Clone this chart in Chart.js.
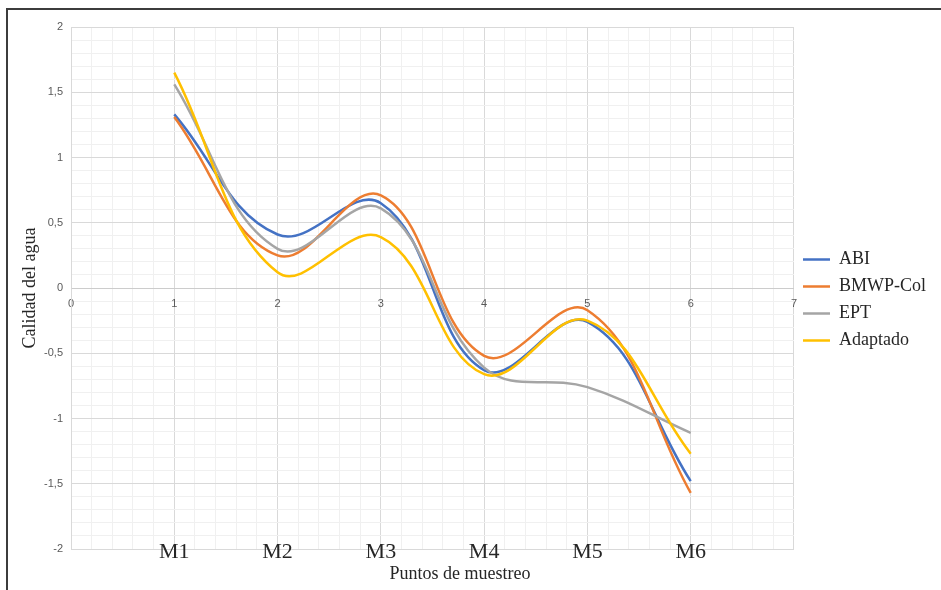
<!DOCTYPE html>
<html>
<head>
<meta charset="utf-8">
<script src="https://cdn.jsdelivr.net/npm/chart.js@4.4.1/dist/chart.umd.min.js"></script>
<style>
  html, body { margin: 0; padding: 0; background: #fff; }
  #wrap { position: relative; width: 941px; height: 590px; }
  #chart-calidad { position: absolute; left: 0; top: 0; }
  #frame {
    position: absolute; left: 6px; top: 8px; right: 0; bottom: 0;
    border-top: 2px solid #3c3c3c; border-left: 2px solid #3c3c3c;
    pointer-events: none;
  }
</style>
</head>
<body>
<div id="wrap">
  <canvas id="chart-calidad" width="941" height="590"></canvas>
  <div id="frame"></div>
</div>
<script>
// puntos de muestreo (posicion en x) y su etiqueta
const puntos = [1, 2, 3, 4, 5, 6];
const etiquetasPuntos = ['M1', 'M2', 'M3', 'M4', 'M5', 'M6'];

// calidad del agua por indice
const abi = [1.33, 0.41, 0.65, -0.63, -0.26, -1.48];
const bmwpCol = [1.31, 0.25, 0.71, -0.52, -0.17, -1.57];
const ept = [1.56, 0.30, 0.61, -0.61, -0.76, -1.11];
const adaptado = [1.65, 0.12, 0.39, -0.66, -0.25, -1.27];

const chartContext = document.getElementById('chart-calidad');

const gridMajor = '#d9d9d9';
const gridMinor = '#f0f0f0';

function esMultiplo(v, paso) {
    return Math.abs(v / paso - Math.round(v / paso)) < 1e-6;
}

function serie(valores) {
    return puntos.map((x, i) => ({ x: x, y: valores[i] }));
}

function dataset(label, valores, color, order) {
    return {
        label: label,
        data: serie(valores),
        borderColor: color,
        backgroundColor: color,
        borderWidth: 2.5,
        pointRadius: 0,
        pointHoverRadius: 0,
        tension: 0.4,
        fill: false,
        order: order
    };
}

var chartData = {
    datasets: [
        dataset('ABI', abi, '#4472c4', 3),
        dataset('BMWP-Col', bmwpCol, '#ed7d31', 2),
        dataset('EPT', ept, '#a5a5a5', 1),
        dataset('Adaptado', adaptado, '#ffc000', 0),
    ]
};

// titulo del eje x, algo desplazado a la derecha
const tituloEjeX = {
    id: 'tituloEjeX',
    afterDraw(chart) {
        const ctx = chart.ctx;
        ctx.save();
        ctx.font = '18px "Liberation Serif"';
        ctx.fillStyle = '#262626';
        ctx.textAlign = 'center';
        ctx.textBaseline = 'middle';
        ctx.fillText('Puntos de muestreo', 460, 574);
        ctx.restore();
    }
};

const config = {
    type: 'line',
    data: chartData,
    plugins: [tituloEjeX],
    options: {
        responsive: false,
        animation: false,
        layout: {
            padding: { left: 12, top: 27, right: 5, bottom: 41 }
        },
        plugins: {
            tooltip: { enabled: false },
            legend: {
                position: 'right',
                title: { display: true, text: '', font: { size: 10 }, padding: 6 },
                labels: {
                    usePointStyle: true,
                    pointStyle: 'line',
                    pointStyleWidth: 27,
                    padding: 9,
                    color: '#262626',
                    font: { family: 'Liberation Serif', size: 18 },
                    sort: (a, b) => a.datasetIndex - b.datasetIndex
                }
            }
        },
        scales: {
            x: {
                type: 'linear',
                min: 0,
                max: 7,
                position: { y: 0 },
                ticks: {
                    stepSize: 0.2,
                    autoSkip: false,
                    maxRotation: 0,
                    padding: 9,
                    color: '#595959',
                    font: { family: 'Liberation Sans', size: 11 },
                    callback: (v) => esMultiplo(v, 1) ? String(Math.round(v)) : ''
                },
                grid: {
                    drawTicks: false,
                    color: (c) => (c.tick && esMultiplo(c.tick.value, 1)) ? gridMajor : gridMinor
                },
                border: { color: '#cccccc' }
            },
            // nombres de los puntos bajo el area de trazado
            xm: {
                type: 'linear',
                min: 0,
                max: 7,
                position: { y: -2 },
                ticks: {
                    stepSize: 1,
                    autoSkip: false,
                    maxRotation: 0,
                    padding: -10,
                    color: '#262626',
                    font: { family: 'Liberation Serif', size: 22 },
                    callback: (v) => etiquetasPuntos[puntos.indexOf(v)] || ''
                },
                grid: { display: false, drawTicks: false },
                border: { display: false }
            },
            y: {
                min: -2,
                max: 2,
                afterFit(scale) { scale.width = 59; },
                ticks: {
                    stepSize: 0.1,
                    autoSkip: false,
                    padding: 8,
                    color: '#595959',
                    font: { family: 'Liberation Sans', size: 11 },
                    callback: (v) => esMultiplo(v, 0.5) ? String(v).replace('.', ',') : ''
                },
                grid: {
                    drawTicks: false,
                    color: (c) => (c.tick && esMultiplo(c.tick.value, 0.5)) ? gridMajor : gridMinor
                },
                border: { color: gridMajor },
                title: {
                    display: true,
                    text: 'Calidad del agua',
                    color: '#262626',
                    font: { family: 'Liberation Serif', size: 18 },
                    padding: { top: 7, bottom: 0 }
                }
            }
        }
    }
};

var chartCalidad = new Chart(chartContext, config);
</script>
</body>
</html>
